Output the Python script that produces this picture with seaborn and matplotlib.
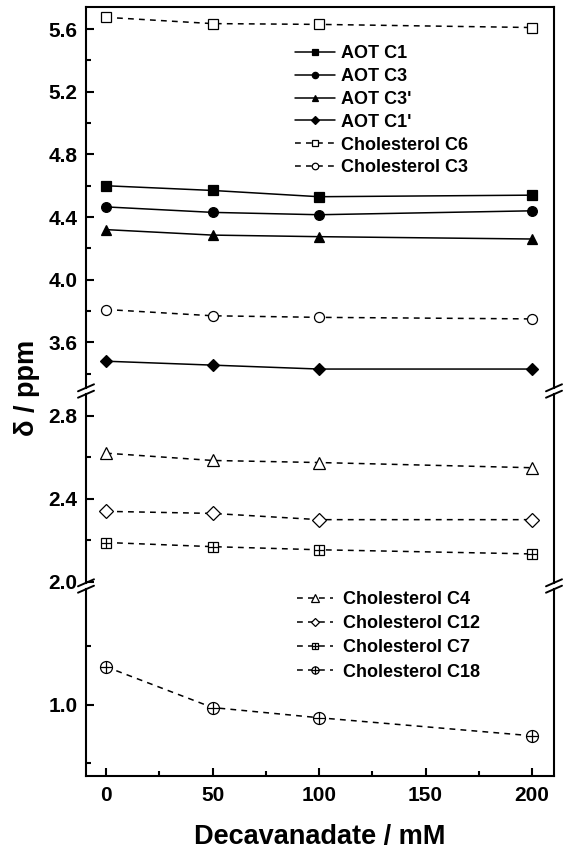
import matplotlib
matplotlib.use('Agg')
import matplotlib.pyplot as plt
import seaborn as sns
from matplotlib.lines import Line2D
from matplotlib.ticker import FixedLocator, FormatStrFormatter

# data
conc = [0, 50, 100, 200]  # decavanadate / mM

aot_c1 = [4.60, 4.57, 4.53, 4.54]
aot_c3 = [4.465, 4.43, 4.415, 4.44]
aot_c3p = [4.32, 4.285, 4.275, 4.26]
aot_c1p = [3.48, 3.455, 3.43, 3.43]
chol_c6 = [5.675, 5.635, 5.63, 5.61]
chol_c3 = [3.81, 3.77, 3.76, 3.75]

chol_c4 = [2.62, 2.585, 2.575, 2.55]
chol_c12 = [2.34, 2.33, 2.30, 2.30]
chol_c7 = [2.19, 2.17, 2.155, 2.135]

chol_c18 = [1.13, 0.99, 0.955, 0.893]

sns.set_style('ticks')
plt.rcParams['font.family'] = ['Liberation Sans', 'DejaVu Sans']
plt.rcParams['font.weight'] = 'bold'
plt.rcParams['text.color'] = 'black'
plt.rcParams['axes.labelcolor'] = 'black'
plt.rcParams['xtick.color'] = 'black'
plt.rcParams['ytick.color'] = 'black'

W, H = 569, 851
fig = plt.figure(figsize=(W / 100, H / 100), dpi=100)


def make_ax(top, bottom):
    return fig.add_axes([86 / W, 1 - bottom / H, 468 / W, (bottom - top) / H])


ax_top = make_ax(7, 388)
ax_mid = make_ax(394, 583)
ax_bot = make_ax(589, 776)

dash = (0, (3.8, 3.4))


def series(ax, y, marker, ms, filled, ls, label):
    sns.lineplot(x=conc, y=y, ax=ax, color='black', linewidth=1.1, linestyle=ls,
                 marker=marker, markersize=ms,
                 markerfacecolor='black' if filled else 'white',
                 markeredgecolor='black', markeredgewidth=0.9,
                 errorbar=None, label=label, legend=False)
    return ax.lines[-1]


def plus(ax, y, ms):
    sns.lineplot(x=conc, y=y, ax=ax, color='black', linestyle='none',
                 marker='+', markersize=ms, markeredgecolor='black',
                 markeredgewidth=0.9, errorbar=None, label='_nolegend_', legend=False)
    return ax.lines[-1]


h_top = [
    series(ax_top, aot_c1, 's', 6.8, True, '-', 'AOT C1'),
    series(ax_top, aot_c3, 'o', 7.0, True, '-', 'AOT C3'),
    series(ax_top, aot_c3p, '^', 7.4, True, '-', "AOT C3'"),
    series(ax_top, aot_c1p, 'D', 6.4, True, '-', "AOT C1'"),
    series(ax_top, chol_c6, 's', 6.5, False, dash, 'Cholesterol C6'),
    series(ax_top, chol_c3, 'o', 7.2, False, dash, 'Cholesterol C3'),
]
l_top = ['AOT C1', 'AOT C3', "AOT C3'", "AOT C1'", 'Cholesterol C6', 'Cholesterol C3']

h4 = series(ax_mid, chol_c4, '^', 9.0, False, dash, 'Cholesterol C4')
h12 = series(ax_mid, chol_c12, 'D', 7.0, False, dash, 'Cholesterol C12')
h7 = series(ax_mid, chol_c7, 's', 7.2, False, dash, 'Cholesterol C7')
p7 = plus(ax_mid, chol_c7, 7.2)
h18 = series(ax_bot, chol_c18, 'o', 8.6, False, dash, 'Cholesterol C18')
p18 = plus(ax_bot, chol_c18, 8.6)

# axis ranges and ticks
ax_top.set_ylim(3.309, 5.741)
ax_top.yaxis.set_major_locator(FixedLocator([3.6, 4.0, 4.4, 4.8, 5.2, 5.6]))
ax_top.yaxis.set_minor_locator(FixedLocator([3.4, 3.8, 4.2, 4.6, 5.0, 5.4]))
ax_mid.set_ylim(1.995, 2.905)
ax_mid.yaxis.set_major_locator(FixedLocator([2.0, 2.4, 2.8]))
ax_mid.yaxis.set_minor_locator(FixedLocator([2.2, 2.6]))
ax_bot.set_ylim(0.755, 1.397)
ax_bot.yaxis.set_major_locator(FixedLocator([1.0]))
ax_bot.yaxis.set_minor_locator(FixedLocator([0.8, 1.2]))

for ax in (ax_top, ax_mid, ax_bot):
    ax.set_xlim(-9.4, 210.3)
    ax.set_xlabel('')
    ax.set_ylabel('')
    ax.yaxis.set_major_formatter(FormatStrFormatter('%.1f'))
    for s in ax.spines.values():
        s.set_linewidth(1.5)
        s.set_color('black')
    ax.tick_params(axis='y', which='major', direction='in', length=6, width=1.5,
                   labelsize=15, pad=6)
    ax.tick_params(axis='y', which='minor', direction='in', length=3.5, width=1.5)
    ax.tick_params(axis='x', which='both', direction='in', width=1.5)

ax_top.spines['bottom'].set_visible(False)
ax_mid.spines['top'].set_visible(False)
ax_mid.spines['bottom'].set_visible(False)
ax_bot.spines['top'].set_visible(False)
for ax in (ax_top, ax_mid):
    ax.tick_params(axis='x', which='both', bottom=False, labelbottom=False)

ax_bot.xaxis.set_major_locator(FixedLocator([0, 50, 100, 150, 200]))
ax_bot.xaxis.set_minor_locator(FixedLocator([25, 75, 125, 175]))
ax_bot.tick_params(axis='x', which='major', length=6, labelsize=15, pad=7)
ax_bot.tick_params(axis='x', which='minor', length=3.5)

ax_bot.set_xlabel('Decavanadate / mM', fontsize=19.5, fontweight='bold')
ax_bot.xaxis.set_label_coords(0.5, -0.255)
ax_bot.xaxis.label.set_va('top')
fig.text(27 / W, 1 - 388 / H, 'δ / ppm', rotation=90, ha='center', va='center',
         fontsize=19.5, fontweight='bold')

# break marks on both spines
for yc in (391, 586):
    for xs in (86, 554):
        for dy in (-3.2, 3.2):
            fig.add_artist(Line2D([(xs - 8) / W, (xs + 8) / W],
                                  [1 - (yc + dy + 3.5) / H, 1 - (yc + dy - 3.5) / H],
                                  color='black', linewidth=1.4, transform=fig.transFigure))

# legends
ax_top.legend(h_top, l_top, loc='upper left', bbox_to_anchor=(0.4466, 0.899),
              frameon=False, prop={'weight': 'bold', 'size': 13},
              handlelength=2.2, handletextpad=0.35, labelspacing=0.32,
              borderpad=0, borderaxespad=0, markerscale=0.65)
ax_bot.legend([h4, h12, (h7, p7), (h18, p18)],
              ['Cholesterol C4', 'Cholesterol C12', 'Cholesterol C7', 'Cholesterol C18'],
              loc='upper left', bbox_to_anchor=(0.451, 0.99),
              frameon=False, prop={'weight': 'bold', 'size': 13},
              handlelength=2.0, handletextpad=0.55, labelspacing=0.4,
              borderpad=0, borderaxespad=0, markerscale=0.6)

fig.savefig('out.png', dpi=100)
